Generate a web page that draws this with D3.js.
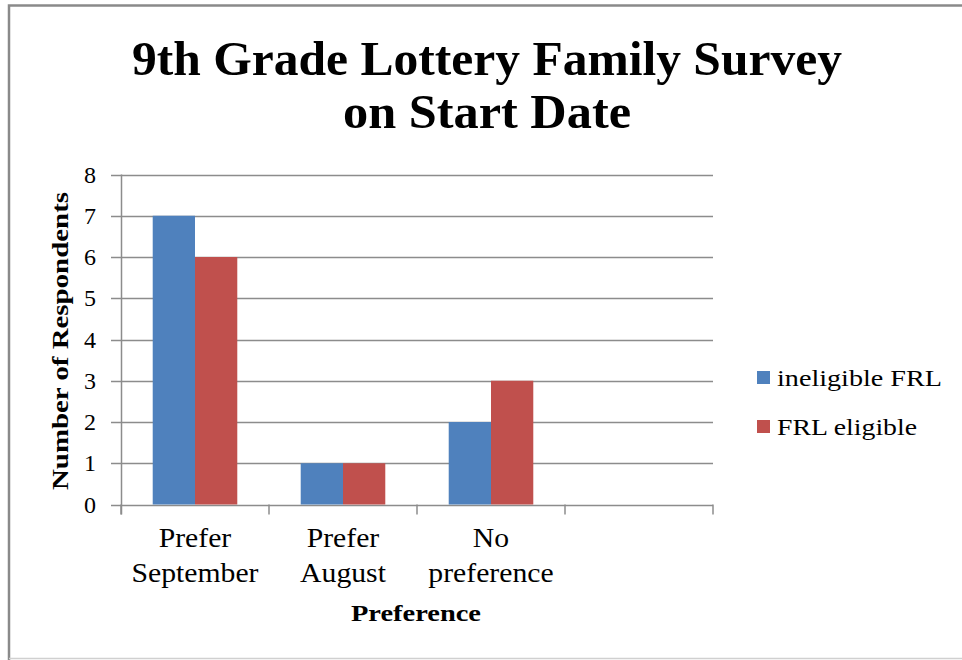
<!DOCTYPE html>
<html>
<head>
<meta charset="utf-8">
<script src="https://cdn.jsdelivr.net/npm/d3@7"></script>
<style>
body { margin: 0; background: #fff; }
text { font-family: "Liberation Serif", "DejaVu Serif", serif; fill: #000; }
</style>
</head>
<body>
<svg id="chart" width="962" height="660"></svg>
<script>
var categories = [["Prefer", "September"], ["Prefer", "August"], ["No", "preference"], [""]];
var seriesNames = ["ineligible FRL", "FRL eligible"];
var ineligible = [7, 1, 2, null];
var eligible = [6, 1, 3, null];
var yTicks = [0, 1, 2, 3, 4, 5, 6, 7, 8];
var colors = ["#4F81BD", "#C0504D"];

var svg = d3.select("#chart");
var width = +svg.attr("width");
var height = +svg.attr("height");

// outer frame
svg.append("rect")
	.attr("x", 0).attr("y", 0).attr("width", width).attr("height", height)
	.attr("fill", "#fff");
svg.append("path")
	.attr("d", "M9,660 L9,5.5 L962,5.5")
	.attr("fill", "none").attr("stroke", "#8a8a8a").attr("stroke-width", 2.5);
svg.append("line")
	.attr("x1", 9).attr("x2", 962).attr("y1", 658.5).attr("y2", 658.5)
	.attr("stroke", "#d0d0d0").attr("stroke-width", 1.5);

var plot = { left: 121, right: 713, top: 174.5, bottom: 504.5 };

var x = d3.scaleBand()
	.domain(d3.range(categories.length))
	.range([plot.left, plot.right]);

var inner = d3.scaleBand()
	.domain([0, 1])
	.range([0, x.bandwidth()])
	.paddingInner(0)
	.paddingOuter(0.75);

var y = d3.scaleLinear()
	.domain([0, 8])
	.range([plot.bottom, plot.top]);

// gridlines + y ticks
svg.append("g").selectAll("line").data(yTicks).enter()
	.append("line")
	.attr("x1", plot.left - 10).attr("x2", plot.right)
	.attr("y1", function(d) { return Math.round(y(d)) + 0.5; })
	.attr("y2", function(d) { return Math.round(y(d)) + 0.5; })
	.attr("stroke", "#8c8c8c").attr("stroke-width", 1.5);

svg.append("g").selectAll("text").data(yTicks).enter()
	.append("text")
	.attr("x", 96)
	.attr("y", function(d) { return y(d) + 8; })
	.attr("text-anchor", "end")
	.style("font-size", "24px")
	.text(function(d) { return d; });

// bars
var series = [ineligible, eligible];
var groups = svg.append("g").selectAll("g").data(series).enter()
	.append("g")
	.attr("fill", function(d, i) { return colors[i]; });

groups.each(function(vals, si) {
	d3.select(this).selectAll("rect")
		.data(vals.map(function(v, ci) { return { v: v, c: ci }; })
			.filter(function(d) { return d.v != null; }))
		.enter().append("rect")
		.attr("x", function(d) { return x(d.c) + inner(si); })
		.attr("width", inner.bandwidth())
		.attr("y", function(d) { return y(d.v); })
		.attr("height", function(d) { return y(0) - y(d.v); });
});

// axes lines
svg.append("line")
	.attr("x1", plot.left + 0.5).attr("x2", plot.left + 0.5)
	.attr("y1", plot.top).attr("y2", plot.bottom + 10)
	.attr("stroke", "#8c8c8c").attr("stroke-width", 1.5);

var xTickPos = d3.range(categories.length + 1).map(function(i) {
	return plot.left + i * x.step();
});
svg.append("g").selectAll("line").data(xTickPos).enter()
	.append("line")
	.attr("x1", function(d) { return d; }).attr("x2", function(d) { return d; })
	.attr("y1", plot.bottom).attr("y2", plot.bottom + 10)
	.attr("stroke", "#8c8c8c").attr("stroke-width", 1.5);

// x tick labels (one text per line, widened a bit to look like Book Antiqua)
categories.forEach(function(lines, i) {
	var cx = x(i) + x.bandwidth() / 2;
	lines.forEach(function(line, j) {
		if (!line) return;
		var t = svg.append("text")
			.attr("x", cx)
			.attr("y", 547 + j * 35)
			.attr("text-anchor", "middle")
			.style("font-size", "27px")
			.text(line);
		var w = t.node().getComputedTextLength();
		t.attr("textLength", w * 1.1).attr("lengthAdjust", "spacingAndGlyphs");
	});
});

// axis titles
svg.append("text")
	.attr("x", 416).attr("y", 621)
	.attr("text-anchor", "middle")
	.attr("textLength", 130).attr("lengthAdjust", "spacingAndGlyphs")
	.style("font-size", "24px").style("font-weight", "bold")
	.text("Preference");

svg.append("text")
	.attr("transform", "translate(68,341) rotate(-90)")
	.attr("text-anchor", "middle")
	.attr("textLength", 298).attr("lengthAdjust", "spacingAndGlyphs")
	.style("font-size", "24px").style("font-weight", "bold")
	.text("Number of Respondents");

// title
var titleLines = [
	{ t: "9th Grade Lottery Family Survey", y: 75, w: 710 },
	{ t: "on Start Date", y: 128, w: 288 }
];
svg.append("g").selectAll("text").data(titleLines).enter()
	.append("text")
	.attr("x", 487).attr("y", function(d) { return d.y; })
	.attr("text-anchor", "middle")
	.attr("textLength", function(d) { return d.w; })
	.attr("lengthAdjust", "spacingAndGlyphs")
	.style("font-size", "48px").style("font-weight", "bold")
	.text(function(d) { return d.t; });

// legend
var legendWidths = [165, 140];
var legend = svg.append("g").selectAll("g").data(seriesNames).enter()
	.append("g")
	.attr("transform", function(d, i) { return "translate(757," + (371 + i * 49) + ")"; });
legend.append("rect")
	.attr("width", 13).attr("height", 13)
	.attr("fill", function(d, i) { return colors[i]; });
legend.append("text")
	.attr("x", 20).attr("y", 15)
	.attr("textLength", function(d, i) { return legendWidths[i]; })
	.attr("lengthAdjust", "spacingAndGlyphs")
	.style("font-size", "24px")
	.text(function(d) { return d; });
</script>
</body>
</html>
